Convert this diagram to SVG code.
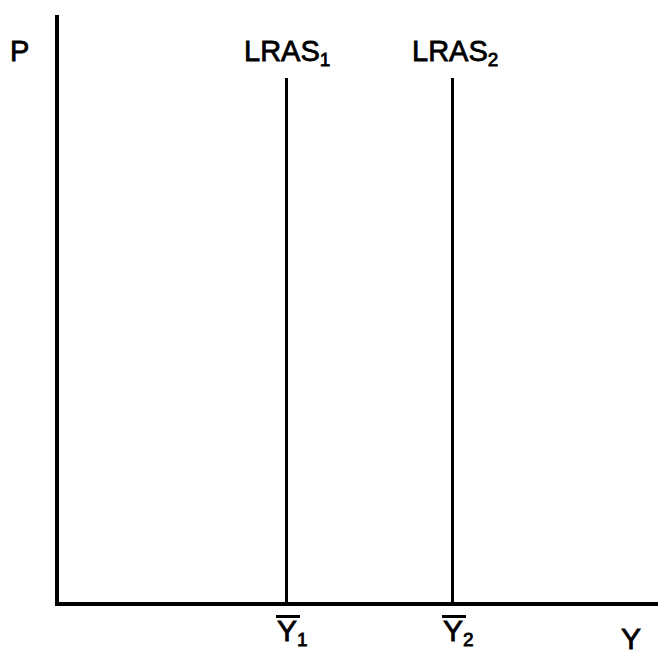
<svg xmlns="http://www.w3.org/2000/svg" width="658" height="652" viewBox="0 0 658 652">
<style>
.t{font-family:"Liberation Sans",Arial,sans-serif;fill:#000;stroke:#000;stroke-width:0.8}
.s{font-size:19px}
.ax{stroke:#000;stroke-width:4;fill:none}
.ln{stroke:#000;stroke-width:3;fill:none}
</style>
<rect width="658" height="652" fill="#fff"/>
<g id="axes">
<line class="ax" x1="57" y1="15" x2="57" y2="606"/>
<line class="ax" x1="55" y1="604" x2="658" y2="604"/>
<text class="t" x="10" y="61" font-size="29">P</text>
<text class="t" x="621" y="649" font-size="30">Y</text>
</g>
<g id="connectors">
<line class="ln" x1="286.5" y1="78" x2="286.5" y2="604"/>
<line class="ln" x1="452.5" y1="78" x2="452.5" y2="604"/>
</g>
<g id="lras1">
<text class="t" x="244" y="61" font-size="29">LRAS<tspan class="s" dy="5">1</tspan></text>
</g>
<g id="lras2">
<text class="t" x="412" y="61" font-size="29">LRAS<tspan class="s" dy="5">2</tspan></text>
</g>
<g id="y1">
<line class="ln" x1="276" y1="616.5" x2="300" y2="616.5"/>
<text class="t" x="277" y="641" font-size="30">Y<tspan class="s" dy="5">1</tspan></text>
</g>
<g id="y2">
<line class="ln" x1="442" y1="616.5" x2="466" y2="616.5"/>
<text class="t" x="443" y="641" font-size="30">Y<tspan class="s" dy="5">2</tspan></text>
</g>
</svg>
